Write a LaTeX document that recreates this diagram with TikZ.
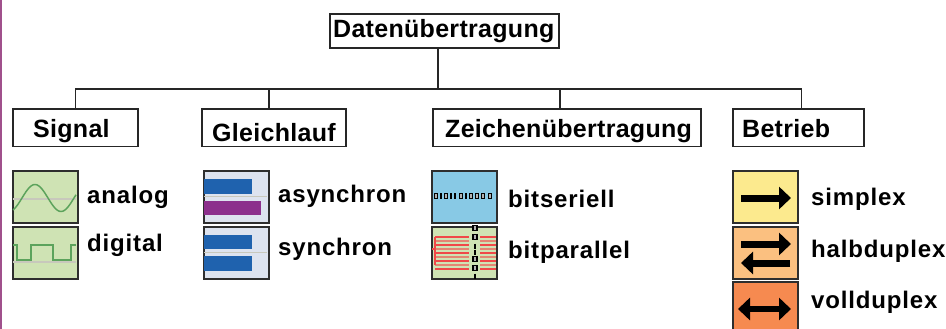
\documentclass[tikz,border=0pt]{standalone}
\usepackage{fontspec}
\usepackage{xcolor}
\setmainfont{Liberation Sans}
\usetikzlibrary{arrows.meta}
\definecolor{iconborder}{HTML}{2E2E2E}
\definecolor{greenbg}{HTML}{CFE3B4}
\definecolor{greenline}{HTML}{5CA35C}
\definecolor{greyline}{HTML}{C8C8BC}
\definecolor{lavender}{HTML}{DDE3EF}
\definecolor{barblue}{HTML}{1F62AE}
\definecolor{barpurple}{HTML}{8C2F8C}
\definecolor{skyblue}{HTML}{88C9E5}
\definecolor{redline}{HTML}{F04848}
\definecolor{paleyellow}{HTML}{FCEA8E}
\definecolor{paleorange}{HTML}{FBC080}
\definecolor{deeporange}{HTML}{F68A50}
\definecolor{edgemauve}{HTML}{A0508C}
\tikzset{
  titlebox/.style={draw=black!85,line width=1.8pt,anchor=north west,inner sep=0pt},
  icon/.style={draw=iconborder,line width=1.8pt,anchor=north west,inner sep=0pt,minimum width=65pt},
  titletext/.style={anchor=base west,inner sep=0pt,font=\fontsize{25}{25}\selectfont\bfseries\addfontfeature{LetterSpace=1.2}},
  itemtext/.style={anchor=base west,inner sep=0pt,font=\fontsize{24}{24}\selectfont\bfseries\addfontfeature{LetterSpace=3.5}},
  branch/.style={draw=black!85,line width=1.8pt},
  fatarrow/.style={line width=7pt,-{Triangle[length=12pt,width=22pt]}},
  bothway/.style={line width=5.5pt,{Triangle[length=12pt,width=22pt]}-{Triangle[length=12pt,width=22pt]}},
  bitcell/.style={draw=black,line width=1.3pt,fill=gray!60},
}

\begin{document}
\begin{tikzpicture}[x=1pt,y=-1pt]
    \useasboundingbox (0,0) rectangle (946,329);
    \fill[edgemauve] (0,0) rectangle (1.5,329);

    % title boxes
    \node[titlebox,minimum width=229pt,minimum height=34pt] (top) at (329,13) {};
    \node[titlebox,minimum width=125pt,minimum height=37pt] (signal) at (12,108.5) {};
    \node[titlebox,minimum width=144pt,minimum height=37pt] (gleich) at (201,108.5) {};
    \node[titlebox,minimum width=268pt,minimum height=37pt] (zeichen) at (432,108.5) {};
    \node[titlebox,minimum width=131pt,minimum height=37pt] (betrieb) at (732,108.5) {};

    \node[titletext] (toptext) at (333,38) {Datenübertragung};
    \node[titletext] (signaltext) at (33,138) {Signal};
    \node[titletext] (gleichtext) at (212,142) {Gleichlauf};
    \node[titletext] (zeichentext) at (445,138) {Zeichenübertragung};
    \node[titletext] (betriebtext) at (742,138) {Betrieb};

    % tree
    \coordinate (bus) at (438,89);
    \draw[branch] (top.south -| bus) -- (bus);
    \draw[branch] (bus) -| (signal.north);
    \draw[branch] (bus) -| ([xshift=-5pt]gleich.north);
    \draw[branch] (bus) -| ([xshift=-7pt]zeichen.north);
    \draw[branch] (bus) -| ([xshift=3pt]betrieb.north);

    % Signal
    \node[icon,fill=greenbg,minimum height=52pt] (analog) at (12,170) {};
    \node[icon,fill=greenbg,minimum height=52pt] (digital) at (12,226) {};
    \draw[greyline,line width=1.5pt] (13,199) -- (76,199);
    \draw[greyline,line width=1.5pt] (13,262) -- (76,262);
    \draw[greenline,line width=1.5pt] plot[smooth,samples=40,domain=13:76] (\x,{198-13.5*sin((\x-22)/52*360)});
    \draw[greenline,line width=1.5pt] (13,245) -- (17,245) -- (17,260) -- (31,260) -- (31,245)
       -- (53,245) -- (53,260) -- (71,260) -- (71,245) -- (76,245);
    \node[itemtext] (analogtext) at (87,203) {analog};
    \node[itemtext] (digitaltext) at (87,251) {digital};

    % Gleichlauf
    \node[icon,fill=lavender,minimum height=52pt] (asyn) at (203,170) {};
    \node[icon,fill=lavender,minimum height=52pt] (syn) at (203,226) {};
    \draw[greyline,line width=1.2pt] (204,196.5) -- (267,196.5);
    \draw[greyline,line width=1.2pt] (204,252.5) -- (267,252.5);
    \fill[barblue] (204,179) rectangle (252,194);
    \fill[barpurple] (204,201) rectangle (261,215);
    \fill[barblue] (204,235) rectangle (252,249);
    \fill[barblue] (204,256) rectangle (252,271);
    \node[itemtext] (asyntext) at (278,202) {asynchron};
    \node[itemtext] (syntext) at (278,255) {synchron};

    % Zeichenuebertragung
    \node[icon,fill=skyblue,minimum height=52pt] (seriell) at (431,170) {};
    \node[icon,fill=greenbg,minimum height=52pt] (parallel) at (431,226) {};
    \foreach \x in {436,446,461,471,477,483,490} {
      \draw[bitcell] (\x-1.8,193.5) rectangle (\x+1.8,198.5);
    }
    \foreach \x in {441,451,455,466} {
      \draw[black,line width=1.4pt] (\x,193) -- (\x,199);
    }
    \foreach \y in {237,245,253,261,269} {
      \draw[redline,line width=1.5pt] (435,\y) -- (469,\y);
      \draw[redline,line width=1.5pt] (480,\y) -- (496,\y);
    }
    \foreach \y in {241,249,257,265} {
      \draw[redline!60!greenbg,line width=1.5pt] (435,\y) -- (469,\y);
      \draw[redline!60!greenbg,line width=1.5pt] (480,\y) -- (496,\y);
    }
    \draw[redline,line width=1.5pt] (435,237) -- (435,265);
    \draw[redline,line width=1.5pt] (432,249) -- (435,249);
    \foreach \y in {228,237,259,268} {
      \draw[bitcell] (473,\y-2.5) rectangle (477,\y+2.5);
    }
    \foreach \y in {246,252,276} {
      \draw[black,line width=1.3pt] (475,\y-2.5) -- (475,\y+2.5);
    }
    \node[itemtext] (seurielltext) at (508,207) {bitseriell};
    \node[itemtext] (paralleltext) at (508,258) {bitparallel};

    % Betrieb
    \node[icon,fill=paleyellow,minimum height=52pt] (simplex) at (732,170) {};
    \node[icon,fill=paleorange,minimum height=52pt] (halb) at (732,226) {};
    \node[icon,fill=deeporange,minimum height=54pt] (voll) at (732,281) {};
    \draw[fatarrow] (741,198) -- (791,198);
    \draw[fatarrow] (741,244) -- (791,244);
    \draw[fatarrow] (790,263) -- (741,263);
    \draw[bothway] (738,309) -- (791,309);
    \node[itemtext] (simplextext) at (811,205) {simplex};
    \node[itemtext] (halbtext) at (811,257) {halbduplex};
    \node[itemtext] (volltext) at (811,308) {vollduplex};

  \end{tikzpicture}
\end{document}
